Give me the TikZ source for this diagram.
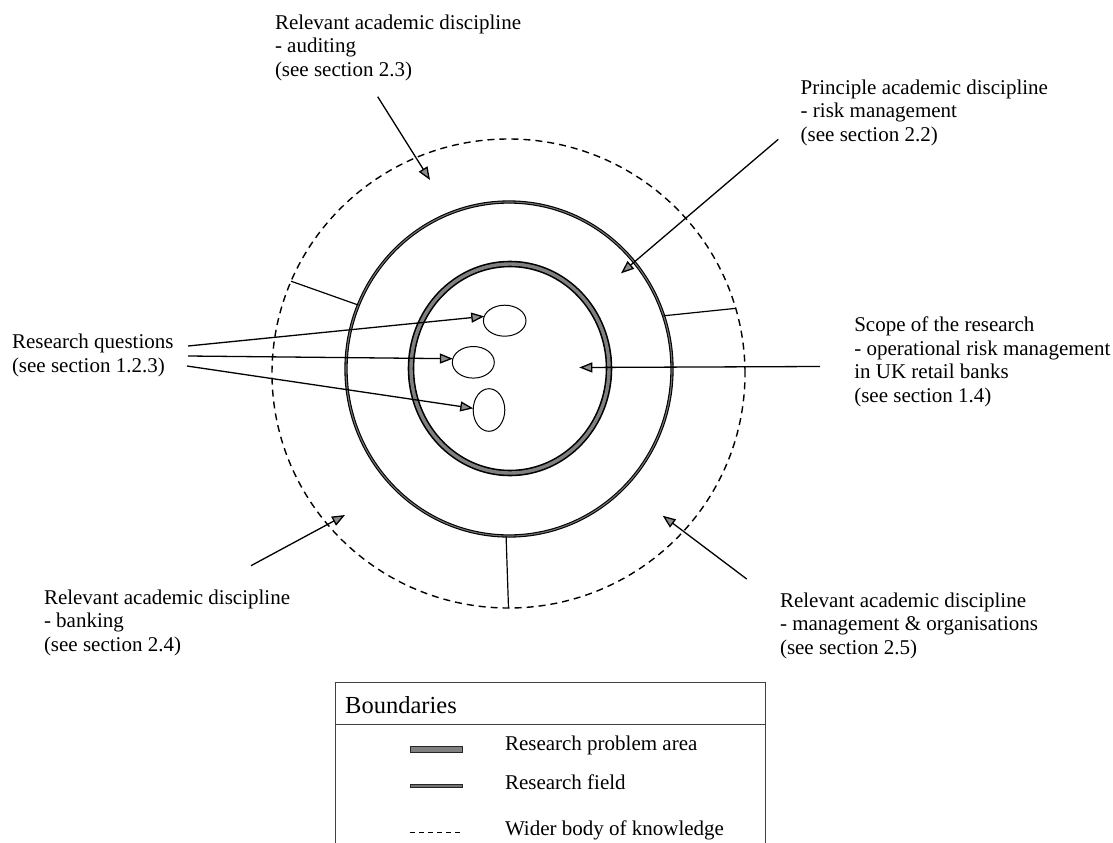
\documentclass[tikz,border=0pt]{standalone}
\usepackage{fontspec}
\setmainfont{Liberation Serif}
\usetikzlibrary{arrows.meta,shapes.geometric}

\begin{document}
\begin{tikzpicture}[x=1bp,y=-1bp,
  % multi-line labels are placed by the baseline of their last line
  lbl/.style={anchor=base west, align=left, inner sep=0pt, outer sep=0pt,
              font=\fontsize{21bp}{23.5bp}\selectfont},
  ring/.style={ellipse, inner sep=0pt, outer sep=0pt},
  widerline/.style={draw=black, line width=1.4bp, dash pattern=on 7bp off 5bp},
  fieldline/.style={draw=black, line width=1.1bp, double=black!55, double distance=1.1bp},
  problemline/.style={draw=black, line width=1.6bp, double=black!50, double distance=3.4bp},
  question/.style={ellipse, draw, line width=1bp, inner sep=0pt, outer sep=0pt},
  pointer/.style={line width=1.3bp, -{Triangle[length=13bp,width=10bp,fill=black!45]}},
  spoke/.style={line width=1.2bp},
  frame/.style={draw=black!75, line width=1bp}]

\useasboundingbox (0,0) rectangle (1113,843);
\clip (0,0) rectangle (1113,843);

% boundaries: wider body of knowledge, research field, research problem area
\node[ring, widerline, minimum width=473bp, minimum height=469bp] (wider) at (508.5,373.5) {};
\node[ring, fieldline, minimum width=326bp, minimum height=334bp] (field) at (509,369) {};
\node[ring, problemline, minimum width=198bp, minimum height=209bp] (problem) at (510,368.5) {};

% spokes joining the outer boundaries
\draw[spoke] (wider.157) -- (field.157);
\draw[spoke] (field.19) -- (wider.16.6);
\draw[spoke] (field.-91.4) -- (wider.-90.9);

% research questions
\node[question, minimum width=42.6bp, minimum height=31bp] (q1) at (504.7,320.7) {};
\node[question, minimum width=42bp, minimum height=31.6bp] (q2) at (473.3,362.3) {};
\node[question, minimum width=31.6bp, minimum height=42.6bp] (q3) at (489,410) {};

% labels
\node[lbl] (audit) at (275,76) {Relevant academic discipline\\- auditing\\(see section 2.3)};
\node[lbl] (principle) at (800.7,141) {Principle academic discipline\\- risk management\\(see section 2.2)};
\node[lbl] (rq) at (12,372) {Research questions\\(see section 1.2.3)};
\node[lbl] (scope) at (854.3,402) {Scope of the research\\- operational risk management\\in UK retail banks\\(see section 1.4)};
\node[lbl] (bank) at (44,651) {Relevant academic discipline\\- banking\\(see section 2.4)};
\node[lbl] (mgmt) at (780,654) {Relevant academic discipline\\- management \& organisations\\(see section 2.5)};

% pointer ends
\coordinate (auditS) at (377.7,96.7);   \coordinate (auditT) at (430,180);
\coordinate (princS) at (778.3,139.3);  \coordinate (princT) at (621,273.3);
\coordinate (scopeS) at (820,366.5);    \coordinate (scopeT) at (579.3,367.5);
\coordinate (bankS) at (251,565.7);     \coordinate (bankT) at (345,515);
\coordinate (mgmtS) at (746.7,579);     \coordinate (mgmtT) at (662.7,515.7);
\coordinate (rqA) at (188,346);
\coordinate (rqB) at (188,356);
\coordinate (rqC) at (187,366);

\draw[pointer] (auditS) -- (auditT);
\draw[pointer] (princS) -- (princT);
\draw[pointer] (scopeS) -- (scopeT);
\draw[pointer] (bankS) -- (bankT);
\draw[pointer] (mgmtS) -- (mgmtT);
\draw[pointer] (rqA) -- (q1.168);
\draw[pointer] (rqB) -- (q2.170);
\draw[pointer] (rqC) -- (q3.174);

% legend
\draw[frame] (335,682) rectangle (765,870);
\draw[frame] (335,724) -- (765,724);
\node[anchor=base west, inner sep=0pt, font=\fontsize{24.5bp}{26bp}\selectfont] (lgtitle) at (345,713) {Boundaries};
\filldraw[fill=black!50, draw=black!85, line width=0.8bp] (410,746) rectangle (462,752);
\filldraw[fill=black!55, draw=black!85, line width=0.6bp] (410,784.6) rectangle (462,787.6);
\draw[line width=1bp, dash pattern=on 5bp off 4bp] (410,832.7) -- (462,832.7);
\node[lbl] (lg1) at (505,750) {Research problem area};
\node[lbl] (lg2) at (505,789.3) {Research field};
\node[lbl] (lg3) at (505,835) {Wider body of knowledge};

\end{tikzpicture}
\end{document}
